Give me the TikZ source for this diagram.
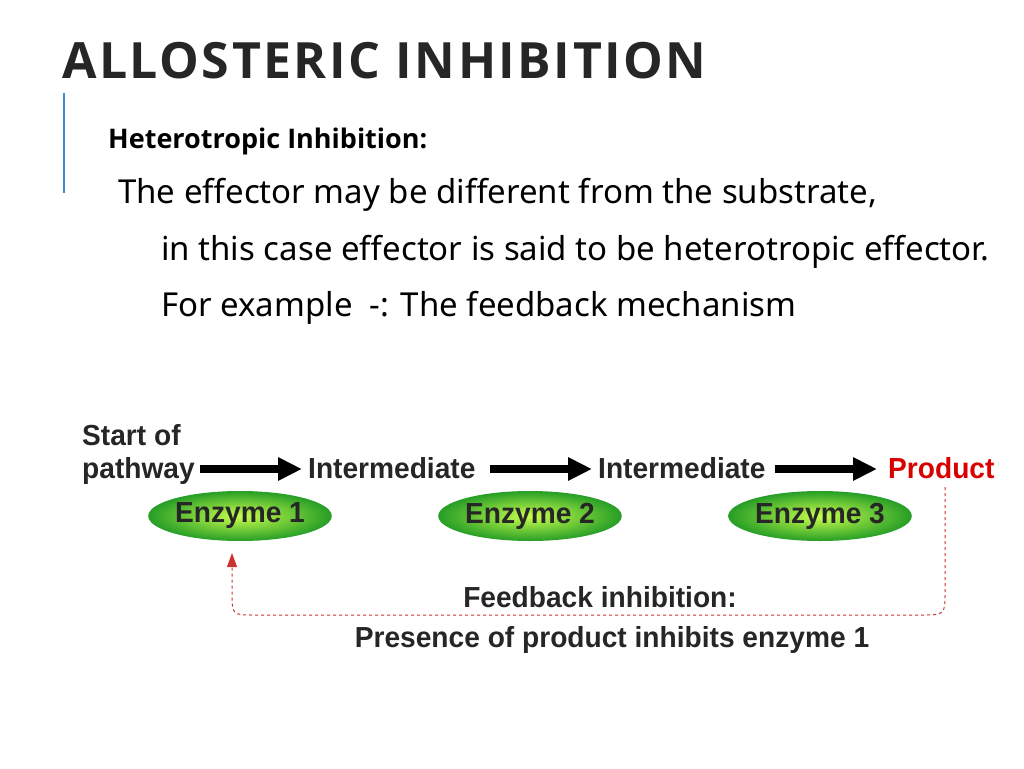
\documentclass[tikz,border=0pt]{standalone}
\usepackage{fontspec}
\setmainfont{Noto Sans}
\newfontfamily\bfont{Open Sans}
\newfontfamily\dfont[FakeStretch=0.97]{Liberation Sans}
\usetikzlibrary{arrows.meta,shapes.geometric}
\begin{document}
\begin{tikzpicture}[x=1pt,y=-1pt,
  txt/.style={inner sep=0,anchor=base west},
  dg/.style={inner sep=0,font=\dfont\bfseries\fontsize{29}{32}\selectfont,text=black!85},
  big/.style={line width=8pt,-{Triangle[length=24pt,width=22pt]}},
  enz/.style={ellipse,minimum width=180pt,minimum height=50pt,inner sep=0,
     shading=radial,inner color=green!30!yellow!70,outer color=green!55!black!85,
     font=\dfont\bfseries\fontsize{29}{32}\selectfont,text=black!85}]
\useasboundingbox (0,0) rectangle (1024,768);
\node[txt,font=\bfont\bfseries\fontsize{50}{56}\selectfont\addfontfeature{LetterSpace=5},text=black!85] (title) at (62,78) {ALLOSTERIC INHIBITION};
\draw[cyan!60!blue!80,line width=2pt] (64,93) -- (64,193);
\node[txt,font=\bfont\bfseries\fontsize{27}{30}\selectfont] (h) at (108,148) {Heterotropic Inhibition:};
\node[txt,font=\fontsize{33}{36}\selectfont] (l1) at (118,203) {The effector may be different from the substrate,};
\node[txt,font=\fontsize{33}{36}\selectfont] (l2) at (161,260) {in this case effector is said to be heterotropic effector.};
\node[txt,font=\fontsize{33}{36}\selectfont] (l3) at (161,316) {For example\ \ -: The feedback mechanism};

\node[dg,anchor=base west,align=left] (s) at (82,445) {Start of};
\node[dg,anchor=base west] (p) at (82,478) {pathway};
\node[dg,anchor=base west] (i1) at (308,478) {Intermediate};
\node[dg,anchor=base west] (i2) at (598,478) {Intermediate};
\node[dg,anchor=base west,text=red!85!black] (pr) at (888,478) {Product};
\draw[big] (200,469) -- (302,469);
\draw[big] (490,469) -- (592,469);
\draw[big] (775,469) -- (877,469);
\node[enz] (e1) at (240,516) {Enzyme 1};
\node[enz] (e2) at (530,516) {Enzyme 2};
\node[enz] (e3) at (820,516) {Enzyme 3};
\coordinate (a) at (945,487);
\coordinate (b) at (232,553);
\draw[red!75!black!80,dashed,line width=1pt,-{Triangle[length=14pt,width=10pt]}]
  (a) -- (945,592) .. controls (945,615) .. (920,615) -- (255,615) .. controls (232,615) .. (232,592) -- (b);
\node[dg,anchor=base] (fb) at (600,607) {Feedback inhibition:};
\node[dg,anchor=base] (pp) at (612,647) {Presence of product inhibits enzyme 1};
\end{tikzpicture}
\end{document}
